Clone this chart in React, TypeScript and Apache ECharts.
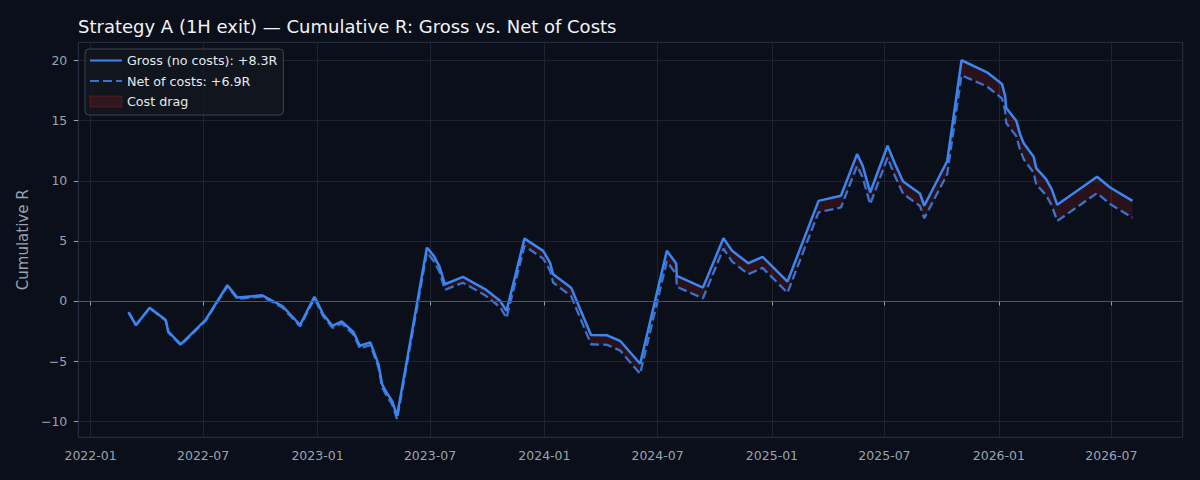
import { useEffect, useRef } from 'react';
import * as echarts from 'echarts';

// ─── Data ─────────────────────────────────────────────────────────────────────

const TRADE_DATES = [
  '2022-03-03', '2022-03-15', '2022-04-06', '2022-05-02', '2022-05-06', '2022-05-26',
  '2022-07-05', '2022-08-09', '2022-08-25', '2022-10-04', '2022-11-06', '2022-12-04',
  '2022-12-27', '2023-01-01', '2023-01-10', '2023-01-25', '2023-02-09', '2023-02-28',
  '2023-03-10', '2023-03-27', '2023-04-09', '2023-04-15', '2023-04-22', '2023-05-01',
  '2023-05-09', '2023-06-26', '2023-07-07', '2023-07-16', '2023-07-25', '2023-08-23',
  '2023-09-28', '2023-10-22', '2023-11-01', '2023-11-30', '2023-12-30', '2024-01-10',
  '2024-01-15', '2024-02-13', '2024-03-16', '2024-04-11', '2024-05-02', '2024-06-03',
  '2024-07-16', '2024-07-31', '2024-08-01', '2024-09-12', '2024-10-15', '2024-10-29',
  '2024-11-24', '2024-12-17', '2025-01-26', '2025-03-17', '2025-04-22', '2025-05-18',
  '2025-05-27', '2025-06-08', '2025-07-06', '2025-07-18', '2025-07-31', '2025-08-27',
  '2025-09-03', '2025-10-10', '2025-11-02', '2025-12-13', '2026-01-06', '2026-01-11',
  '2026-01-13', '2026-01-29', '2026-02-04', '2026-02-10', '2026-02-26', '2026-03-02',
  '2026-03-18', '2026-03-27', '2026-04-05', '2026-06-08', '2026-06-29', '2026-08-04',
];

const GROSS_R = [
  -0.92, -2.0, -0.56, -1.58, -2.56, -3.61,
  -1.58, 1.31, 0.28, 0.47, -0.44, -2.0,
  0.35, -0.14, -1.1, -2.07, -1.7, -2.6,
  -3.73, -3.45, -5.26, -6.93, -7.62, -8.31,
  -9.56, 4.44, 3.75, 2.9, 1.39, 2.0,
  0.97, 0.0, -0.83, 5.19, 4.17, 3.19,
  2.22, 1.11, -2.83, -2.86, -3.33, -5.22,
  4.17, 3.11, 2.08, 1.11, 5.22, 4.17,
  3.14, 3.67, 1.61, 8.33, 8.75, 12.22,
  11.25, 9.03, 12.92, 11.39, 9.94, 8.94,
  7.92, 11.65, 20.03, 19.03, 18.06, 17.08,
  16.05, 15.0, 13.9, 13.12, 12.0, 11.06,
  10.14, 9.31, 8.0, 10.33, 9.44, 8.33,
];

const NET_R = [
  -0.94, -2.03, -0.6, -1.63, -2.62, -3.68,
  -1.66, 1.22, 0.18, 0.36, -0.56, -2.13,
  0.21, -0.29, -1.26, -2.24, -1.88, -2.8,
  -3.94, -3.68, -5.5, -7.18, -7.88, -8.58,
  -9.85, 4.04, 3.33, 2.46, 0.93, 1.52,
  0.46, -0.53, -1.42, 4.58, 3.53, 2.53,
  1.54, 0.4, -3.6, -3.65, -4.13, -6.07,
  3.3, 2.22, 1.18, 0.22, 4.36, 3.28,
  2.23, 2.75, 0.68, 7.38, 7.78, 11.25,
  10.27, 8.05, 11.92, 10.38, 8.92, 7.91,
  6.88, 10.55, 18.78, 17.85, 16.85, 15.85,
  14.8, 13.72, 12.6, 11.8, 10.67, 9.72,
  8.8, 7.96, 6.66, 8.98, 8.07, 6.93,
];

const X_TICKS = [
  '2022-01', '2022-07', '2023-01', '2023-07', '2024-01',
  '2024-07', '2025-01', '2025-07', '2026-01', '2026-07',
];

const Y_TICKS = [-10, -5, 0, 5, 10, 15, 20];

// ─── Styling ──────────────────────────────────────────────────────────────────

const BG = '#0b0f19';
const GRID_LINE = '#1e2531';
const SPINE = '#2b3343';
const ZERO_LINE = '#4b5668';
const TICK_TEXT = '#9aa3b2';
const TITLE_TEXT = '#f1f3f7';
const GROSS_COLOR = '#3b86f2';
const NET_COLOR = '#3a72cc';
const DRAG_FILL = 'rgba(220,38,38,0.15)';
const FONT = 'DejaVu Sans';

// ─── Helpers ──────────────────────────────────────────────────────────────────

function toTs(s: string): number {
  const [y, m, d] = s.split('-').map(Number);
  return Date.UTC(y, m - 1, d || 1);
}

function fmtMonth(v: number): string {
  const d = new Date(v);
  return `${d.getUTCFullYear()}-${String(d.getUTCMonth() + 1).padStart(2, '0')}`;
}

function fmtSigned(v: number): string {
  return v < 0 ? `\u2212${Math.abs(v)}` : String(v);
}

function buildOption(): echarts.EChartsCoreOption {
  const ts = TRADE_DATES.map(toTs);
  const grossPts = ts.map((t, i) => [t, GROSS_R[i]]);
  const netPts = ts.map((t, i) => [t, NET_R[i]]);

  const xPad = (ts[ts.length - 1] - ts[0]) * 0.05;
  const yLo = Math.min(...NET_R, ...GROSS_R);
  const yHi = Math.max(...NET_R, ...GROSS_R);
  const yPad = (yHi - yLo) * 0.05;

  const grossName = `Gross (no costs): +${GROSS_R[GROSS_R.length - 1].toFixed(1)}R`;
  const netName = `Net of costs: +${NET_R[NET_R.length - 1].toFixed(1)}R`;
  const dragName = 'Cost drag';
  const xTickTs = X_TICKS.map(toTs);

  return {
    animation: false,
    backgroundColor: BG,
    textStyle: { fontFamily: FONT },
    title: {
      text: 'Strategy A (1H exit) \u2014 Cumulative R: Gross vs. Net of Costs',
      left: 78,
      top: 17,
      padding: 0,
      textStyle: { color: TITLE_TEXT, fontSize: 18, fontWeight: 'normal', fontFamily: FONT },
    },
    legend: {
      orient: 'vertical',
      left: 85,
      top: 49,
      padding: [5, 6, 7, 4],
      itemWidth: 32,
      itemHeight: 11,
      itemGap: 7.5,
      backgroundColor: 'rgba(18,22,32,0.85)',
      borderColor: '#3c4352',
      borderWidth: 1,
      borderRadius: 4,
      textStyle: { color: '#e6e9ef', fontSize: 12.7, fontFamily: FONT },
      data: [
        { name: grossName, itemStyle: { opacity: 0 } },
        { name: netName, itemStyle: { opacity: 0 } },
        {
          name: dragName,
          icon: 'rect',
          itemStyle: { color: DRAG_FILL, borderColor: 'rgba(220,38,38,0.3)', borderWidth: 1, opacity: 1 },
        },
      ],
    },
    grid: {
      left: 78.3,
      right: 17.3,
      top: 42.3,
      bottom: 42.7,
      show: true,
      borderColor: SPINE,
      borderWidth: 1,
      backgroundColor: 'transparent',
    },
    xAxis: {
      type: 'value',
      min: ts[0] - xPad,
      max: ts[ts.length - 1] + xPad,
      axisLine: { show: false },
      axisTick: {
        show: true,
        length: 4.5,
        customValues: xTickTs,
        lineStyle: { color: TICK_TEXT, width: 1 },
      },
      axisLabel: {
        customValues: xTickTs,
        formatter: (v: number) => fmtMonth(v),
        color: TICK_TEXT,
        fontSize: 12.5,
        fontFamily: FONT,
        margin: 12,
      },
      splitLine: { show: true, lineStyle: { color: GRID_LINE, width: 1 } },
    },
    yAxis: {
      type: 'value',
      min: yLo - yPad,
      max: yHi + yPad,
      name: 'Cumulative R',
      nameLocation: 'middle',
      nameGap: 45,
      nameRotate: 90,
      nameTextStyle: { color: TICK_TEXT, fontSize: 15, fontFamily: FONT },
      axisLine: { show: false },
      axisTick: {
        show: true,
        length: 4.5,
        customValues: Y_TICKS,
        lineStyle: { color: TICK_TEXT, width: 1 },
      },
      axisLabel: {
        customValues: Y_TICKS,
        formatter: (v: number) => fmtSigned(v),
        color: TICK_TEXT,
        fontSize: 12.5,
        fontFamily: FONT,
        margin: 11,
      },
      splitLine: { show: true, lineStyle: { color: GRID_LINE, width: 1 } },
    },
    series: [
      {
        // band between gross and net curves, projected through the axes
        name: dragName,
        type: 'custom',
        data: [[ts[0], GROSS_R[0]]],
        z: 2,
        clip: true,
        itemStyle: { color: DRAG_FILL },
        renderItem: (_params: unknown, api: any) => {
          const upper = ts.map((t, i) => api.coord([t, GROSS_R[i]]));
          const lower = ts.map((t, i) => api.coord([t, NET_R[i]])).reverse();
          return {
            type: 'polygon',
            shape: { points: [...upper, ...lower] },
            style: { fill: DRAG_FILL, stroke: 'none' },
          };
        },
      },
      {
        name: netName,
        type: 'line',
        data: netPts,
        symbol: 'none',
        z: 3,
        itemStyle: { color: NET_COLOR },
        lineStyle: { color: NET_COLOR, width: 2.3, type: [9, 4] },
        markLine: {
          silent: true,
          symbol: ['none', 'none'],
          label: { show: false },
          lineStyle: { color: ZERO_LINE, width: 1.2, type: 'solid' },
          data: [{ yAxis: 0 }],
        },
      },
      {
        name: grossName,
        type: 'line',
        data: grossPts,
        symbol: 'none',
        z: 4,
        itemStyle: { color: GROSS_COLOR },
        lineStyle: { color: GROSS_COLOR, width: 2.5 },
      },
    ],
  };
}

// ─── Chart ────────────────────────────────────────────────────────────────────

export default function App() {
  const containerRef = useRef<HTMLDivElement>(null);

  useEffect(() => {
    if (!containerRef.current) return;
    const chart = echarts.init(containerRef.current, null, { renderer: 'svg' });
    chart.setOption(buildOption());
    return () => chart.dispose();
  }, []);

  return (
    <div
      ref={containerRef}
      style={{ position: 'fixed', left: 0, top: 0, width: 1200, height: 480, background: BG }}
    />
  );
}
